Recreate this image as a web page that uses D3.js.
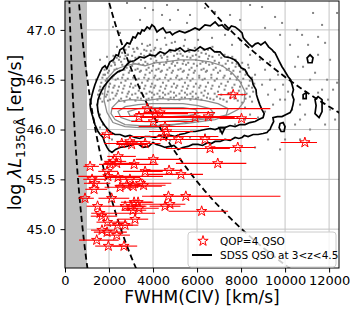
<!DOCTYPE html>
<html>
<head>
<meta charset="utf-8">
<script src="https://cdn.jsdelivr.net/npm/d3@7"></script>
<style>
  body { margin: 0; background: #fff; }
  svg { font-family: "DejaVu Sans", sans-serif; }
</style>
</head>
<body>
<div id="chart"></div>
<script>
// Axis ticks
var fwhmTicks = [0, 2000, 4000, 6000, 8000, 10000, 12000];
var logLTicks = [45.0, 45.5, 46.0, 46.5, 47.0];

// Shaded FWHM region (km/s)
var grayZone = [0, 1000];

// Constant black hole mass lines (log M), VP06 CIV relation
var massLines = [7, 8, 9, 10];
var vp06Zero = 6.66;
var vp06Slope = 0.53;

// QOP=4 QSOs: FWHM(CIV), log L1350, lower / upper FWHM error
var starFwhm = [7640, 3730, 3360, 4090, 4320, 4010, 4545, 4620, 4470, 5150, 6360, 6590, 7850, 10900,
  1900, 2580, 2950, 3030, 3640, 5910, 6510, 8020, 2420, 2180, 2045, 2350, 1910, 3140, 4010, 6940,
  1140, 3640, 4730, 5270, 1950, 2410, 1230, 1360, 1320, 2950, 2500, 2800, 3100, 3430, 3570,
  910, 2120, 4700, 5490, 1480, 2730, 3000, 3140, 3320, 3360, 3090, 4545, 4770, 6210,
  1590, 1670, 3180, 1930, 2390, 2730, 1680, 1910, 2350, 1440, 1970, 2680];
var starLogL = [46.35, 46.21, 46.13, 46.16, 46.17, 46.08, 46.03, 45.98, 45.93, 45.90, 45.90, 45.81, 45.82, 45.87,
  45.95, 45.86, 45.88, 45.85, 45.86, 46.12, 46.13, 46.11, 45.73, 45.68, 45.65, 45.66, 45.58, 45.65, 45.70, 45.66,
  45.63, 45.58, 45.59, 45.55, 45.53, 45.52, 45.50, 45.46, 45.40, 45.50, 45.42, 45.44, 45.43, 45.46, 45.44,
  45.31, 45.31, 45.33, 45.33, 45.23, 45.23, 45.23, 45.27, 45.27, 45.21, 45.19, 45.23, 45.25, 45.18,
  45.16, 45.13, 45.10, 45.07, 45.04, 45.04, 44.99, 44.97, 44.94, 44.89, 44.83, 44.83];
var starErrLo = [700, 1600, 1100, 900, 700, 1000, 1200, 800, 1500, 1200, 1500, 2000, 1300, 1100,
  300, 800, 600, 700, 900, 2500, 1500, 1000, 500, 400, 500, 600, 400, 700, 800, 1900,
  300, 1000, 1200, 1500, 1350, 600, 400, 500, 400, 600, 700, 500, 800, 900, 700,
  300, 600, 1200, 1600, 500, 700, 500, 600, 400, 700, 500, 700, 1300, 1500,
  400, 500, 800, 500, 500, 600, 500, 600, 500, 800, 600, 500];
var starErrHi = [600, 5600, 3000, 1500, 2500, 1800, 2000, 1200, 2500, 1500, 1200, 900, 800, 550,
  300, 900, 800, 700, 700, 1800, 1500, 700, 800, 600, 700, 900, 500, 1100, 1300, 1300,
  400, 800, 600, 1000, 2500, 1000, 600, 700, 600, 600, 800, 700, 1300, 1400, 1000,
  400, 800, 1800, 4300, 600, 900, 700, 800, 700, 900, 600, 700, 700, 1200,
  2500, 700, 600, 900, 700, 600, 600, 900, 600, 1000, 800, 600];

// SDSS QSOs drawn as points (FWHM, log L)
var sdssDots = [
  [2818,47.27],[3409,47.10],[4000,47.20],[4409,47.15],[2500,46.97],[3045,46.90],[2182,47.03],[4636,47.25],
  [4181,46.90],[2364,46.83],[1909,46.73],[4772,47.10],[5136,47.20],[5545,47.07],[8954,47.23],[9545,47.13],
  [9863,47.07],[11272,47.17],[11818,46.87],[10545,47.00],[10772,46.95],[11500,46.93],[12363,46.47],[12181,46.40],
  [11954,46.30],[11681,46.40],[10590,46.73],[10817,46.63],[10454,46.63],[11363,46.57],[10136,46.38],[10000,46.30],
  [11500,46.37],[10317,46.20],[12363,47.17],[6363,47.22],[7500,47.15],[8409,47.25],[7954,47.10],[6818,47.18],
  [12045,46.70],[12272,46.10],[11818,46.05],[10681,46.10],[11136,46.00],[10454,46.05],[10000,45.90],[10681,45.90],
  [5681,47.15],[3636,47.22],[9090,47.02],[11681,47.05],[11045,46.85],[10226,46.85],[9772,46.95],[11500,46.75],
  [11909,46.50],[11136,46.50],[10681,46.25],[10908,46.15],[12045,46.20],[9772,45.80],[8636,45.82],[9227,45.90],
  [1591,46.70],[1409,46.50],
  [8409,46.75],[8863,46.70],[9090,46.60],[9317,46.50],[9545,46.40],[9772,46.30],[9227,46.35],[8954,46.45],
  [8636,46.55],[8318,46.65],[9317,46.68],[9681,46.55],[9909,46.45],[9454,46.25],[9090,46.18],[8772,46.12],
  [8409,46.15],[8181,46.22],[7954,46.90],[7590,46.85],[7272,46.95],[6681,46.92],[6045,46.90],[5454,46.90],
  [5000,46.88],[4545,46.92],[3863,46.85],[3272,46.82],[2863,46.75],[2273,46.65],[1818,46.55],[1591,46.40],
  [1454,46.25],[1591,46.15],[1727,46.05],[8181,46.10],[7727,46.05],[7045,45.98],[6363,45.95],[5681,45.92],
  [4772,45.89],[1818,45.95],[2136,45.90],[1591,46.02],
  [2900,46.83],[3300,46.81],[3750,46.84],[4100,46.82],[4600,46.85],[5050,46.81],[5400,46.84],[5900,46.82],
  [6300,46.80],[6700,46.83],[3500,46.86],[4850,46.87],
  [2750,46.80],[3100,46.81],[3600,46.80],[3900,46.79],[4350,46.81],[4750,46.80],[5200,46.79],[5600,46.81],
  [6050,46.79],[6500,46.80],
  [2600,46.77],[2850,46.75],[3150,46.78],[3450,46.76],[3700,46.79],[3950,46.74],[4250,46.77],[4500,46.75],
  [4800,46.78],[5100,46.76],[5350,46.74],[5650,46.78],[5950,46.75],[6200,46.77],[6550,46.74],[6900,46.78],
  [7250,46.75],[7600,46.73],[2350,46.72],[4050,46.80],
  [2200,46.74],[2500,46.73],[2750,46.74],[3350,46.73],[3600,46.74],[3850,46.76],[4100,46.73],[4350,46.74],
  [4650,46.73],[4950,46.74],[5250,46.76],[5800,46.74],[6100,46.73],[6400,46.76],[6700,46.73],[7000,46.75],
  [7400,46.73],[7800,46.66],
  [2200,46.68],[2450,46.70],[2700,46.71],[2950,46.69],[3200,46.72],[3450,46.70],[3650,46.68],[3900,46.71],
  [4150,46.69],[4400,46.72],[4650,46.70],[4900,46.68],[5150,46.71],[5400,46.69],[5700,46.72],[5950,46.70],
  [6250,46.68],[6500,46.71],[6800,46.69],[7100,46.72],[7400,46.69],[7750,46.70],[8050,46.67],[3050,46.74],[5550,46.73],
  [2000,46.66],[2250,46.67],[2550,46.68],[2850,46.66],[3100,46.67],[3350,46.66],[3750,46.66],[4050,46.67],
  [4300,46.66],[4600,46.67],[4850,46.66],[5100,46.67],[5350,46.66],[5600,46.67],[5850,46.66],[6150,46.66],
  [6400,46.67],[6700,46.66],[7000,46.67],[7300,46.66],[7600,46.67],[7900,46.64],
  [1900,46.62],[2100,46.64],[2350,46.61],[2600,46.65],[2800,46.62],[3050,46.64],[3300,46.61],[3550,46.65],
  [3800,46.62],[4000,46.64],[4250,46.61],[4500,46.65],[4750,46.62],[5000,46.64],[5250,46.61],[5500,46.65],
  [5750,46.62],[6000,46.64],[6300,46.61],[6550,46.65],[6850,46.62],[7150,46.64],[7450,46.61],[7750,46.63],
  [8100,46.60],[8350,46.62],
  [1800,46.60],[2000,46.59],[2250,46.60],[2500,46.59],[2700,46.60],[2950,46.59],[3200,46.60],[3450,46.59],
  [3700,46.60],[3950,46.59],[4150,46.60],[4400,46.59],[4650,46.60],[4900,46.59],[5150,46.60],[5400,46.59],
  [5650,46.60],[5900,46.59],[6200,46.60],[6450,46.59],[6750,46.60],[7050,46.59],[7350,46.60],[7650,46.59],
  [7950,46.58],[8250,46.57],
  [1750,46.55],[1950,46.57],[2200,46.54],[2450,46.58],[2650,46.55],[2900,46.57],[3150,46.54],[3400,46.58],
  [3650,46.55],[3850,46.57],[4100,46.54],[4350,46.58],[4600,46.55],[4850,46.57],[5100,46.54],[5350,46.58],
  [5600,46.55],[5850,46.57],[6100,46.54],[6400,46.58],[6650,46.55],[6950,46.57],[7250,46.54],[7550,46.56],
  [7850,46.53],[8200,46.55],[8500,46.52],
  [1700,46.52],[1900,46.51],[2150,46.52],[2400,46.51],[2600,46.52],[2850,46.51],[3100,46.52],[3350,46.51],
  [3600,46.52],[3800,46.51],[4050,46.52],[4300,46.51],[4550,46.52],[4800,46.51],[5050,46.52],[5300,46.51],
  [5550,46.52],[5800,46.51],[6100,46.52],[6350,46.51],[6650,46.52],[6900,46.51],[7200,46.52],[7500,46.51],
  [7800,46.50],[8100,46.51],[8400,46.49],
  [1650,46.47],[1850,46.49],[2050,46.46],[2300,46.50],[2550,46.47],[2750,46.49],[3000,46.46],[3250,46.50],
  [3500,46.47],[3750,46.49],[3950,46.46],[4200,46.50],[4450,46.47],[4700,46.49],[4950,46.46],[5200,46.50],
  [5450,46.47],[5700,46.49],[5950,46.46],[6250,46.50],[6500,46.47],[6800,46.49],[7100,46.46],[7400,46.48],
  [7700,46.45],[8000,46.47],[8350,46.44],[8600,46.46],
  [1600,46.43],[1800,46.44],[2000,46.43],[2250,46.44],[2450,46.43],[2700,46.44],[2950,46.43],[3200,46.44],
  [3400,46.43],[3650,46.44],[3900,46.43],[4100,46.44],[4350,46.43],[4600,46.44],[4850,46.43],[5100,46.44],
  [5350,46.43],[5600,46.44],[5850,46.43],[6150,46.44],[6400,46.43],[6700,46.44],[7000,46.43],[7300,46.44],
  [7600,46.42],[7950,46.43],[8250,46.41],[8500,46.42],
  [1550,46.39],[1750,46.41],[1950,46.38],[2200,46.42],[2400,46.39],[2650,46.41],[2900,46.38],[3100,46.42],
  [3350,46.39],[3600,46.41],[3850,46.38],[4050,46.42],[4300,46.39],[4550,46.41],[4800,46.38],[5050,46.42],
  [5300,46.39],[5550,46.41],[5800,46.38],[6100,46.42],[6350,46.39],[6650,46.41],[6950,46.38],[7250,46.40],
  [7550,46.37],[7900,46.39],[8250,46.36],[8550,46.38],
  [1500,46.35],[1700,46.36],[1900,46.35],[2150,46.37],[2350,46.36],[2600,46.37],[2850,46.36],[3200,46.36],
  [3450,46.37],[3700,46.36],[3950,46.37],[4200,46.36],[4450,46.37],[4700,46.36],[4950,46.37],[5200,46.36],
  [5450,46.37],[5700,46.36],[5950,46.36],[6200,46.37],[6500,46.36],[6800,46.36],[7100,46.35],[7400,46.36],
  [7700,46.34],[8050,46.35],[8400,46.33],
  [1600,46.31],[1850,46.33],[2050,46.30],[2300,46.34],[2550,46.31],[2800,46.33],[3050,46.35],[3300,46.32],
  [3550,46.34],[3800,46.31],[4050,46.35],[4300,46.33],[4550,46.35],[4800,46.32],[5050,46.34],[5300,46.32],
  [5550,46.35],[5800,46.33],[6050,46.32],[6300,46.34],[6600,46.31],[6900,46.33],[7200,46.30],[7500,46.32],
  [7850,46.29],[8200,46.31],[8500,46.28],
  [1700,46.28],[1950,46.29],[2200,46.31],[2450,46.29],[2700,46.28],[2950,46.31],[3200,46.29],[3450,46.31],
  [3700,46.30],[3950,46.32],[4200,46.30],[4450,46.32],[4700,46.30],[4950,46.32],[5200,46.30],[5450,46.32],
  [5700,46.30],[5950,46.31],[6200,46.30],[6450,46.32],[6750,46.30],[7050,46.31],[7350,46.28],[7700,46.31],[8050,46.27]
];

// SDSS density contours (FWHM, log L), black = outer levels, gray = inner levels
var blackContours = [
  [[1590,46.57],[1700,46.62],[1820,46.64],[1900,46.61],[2045,46.68],[2200,46.70],[2320,46.75],[2420,46.74],
   [2500,46.80],[2650,46.82],[2820,46.87],[2950,46.86],[3090,46.93],[3200,46.92],[3320,46.97],[3420,46.96],
   [3500,47.00],[3600,46.99],[3730,47.03],[3850,47.01],[3950,47.05],[4060,47.03],[4180,46.98],[4300,47.00],
   [4450,47.02],[4600,46.97],[4770,46.98],[4880,46.95],[5000,46.97],[5200,46.99],[5450,46.97],[5650,46.99],
   [5910,47.02],[6100,47.00],[6360,47.05],[6600,47.04],[6820,47.08],[6980,47.04],[7140,47.05],[7300,47.01],
   [7410,47.00],[7560,47.04],[7730,47.03],[7900,47.00],[8045,46.97],[8100,46.92],[8180,46.90],[8350,46.86],
   [8500,46.83],[8650,46.86],[8770,46.87],[8900,46.85],[9090,46.88],[9250,46.83],[9410,46.80],[9480,46.78],
   [9545,46.77],[9700,46.70],[9860,46.63],[9950,46.60],[10140,46.53],[10250,46.50],[10320,46.45],[10380,46.40],
   [10320,46.35],[10400,46.30],[10360,46.25],[10300,46.20],[10230,46.17],[10050,46.15],[9860,46.13],[9650,46.13],
   [9450,46.12],[9480,46.08],[9410,46.05],[9350,46.02],[9320,46.00],[9250,45.99],[9180,45.97],[9000,45.96],
   [8770,45.95],[8550,45.95],[8320,45.93],[8150,45.94],[8045,45.92],[7900,45.91],[7730,45.92],[7500,45.89],
   [7270,45.90],[7050,45.88],[6820,45.88],[6650,45.86],[6500,45.87],[6250,45.84],[6045,45.85],[5800,45.85],
   [5590,45.83],[5350,45.82],[5140,45.80],[4950,45.84],[4770,45.83],[4550,45.82],[4320,45.84],[4150,45.85],
   [4000,45.87],[3800,45.83],[3545,45.82],[3300,45.86],[3090,45.85],[2800,45.83],[2500,45.82],[2300,45.80],
   [2136,45.77],[2000,45.79],[1910,45.82],[1800,45.87],[1730,45.92],[1600,45.95],[1500,45.98],[1420,46.02],
   [1360,46.05],[1300,46.10],[1230,46.15],[1170,46.20],[1140,46.25],[1180,46.30],[1230,46.35],[1290,46.40],
   [1360,46.45],[1450,46.50]],
  [[2136,46.53],[2400,46.58],[2636,46.60],[2800,46.65],[2950,46.68],[3150,46.69],[3410,46.73],[3600,46.72],
   [3860,46.75],[4100,46.74],[4320,46.78],[4550,46.76],[4770,46.80],[5000,46.79],[5230,46.82],[5450,46.78],
   [5680,46.80],[5900,46.79],[6140,46.83],[6350,46.80],[6590,46.82],[6800,46.78],[7045,46.78],[7250,46.73],
   [7500,46.72],[7700,46.70],[7860,46.67],[8000,46.62],[8180,46.60],[8300,46.55],[8500,46.50],[8550,46.45],
   [8680,46.40],[8700,46.35],[8770,46.30],[8850,46.25],[8950,46.20],[9050,46.16],[9000,46.12],[8800,46.10],
   [8640,46.08],[8400,46.07],[8180,46.05],[7950,46.05],[7730,46.03],[7500,46.04],[7270,46.02],[7050,46.02],
   [6820,46.00],[6600,46.01],[6360,46.00],[6150,45.99],[5910,45.98],[5700,45.98],[5450,45.96],[5200,45.95],
   [5000,45.93],[4800,45.94],[4545,45.92],[4300,45.94],[4090,45.92],[3850,45.93],[3640,45.93],[3400,45.91],
   [3180,45.92],[2950,45.94],[2730,45.93],[2500,45.95],[2270,45.95],[2100,45.97],[1950,46.00],[1800,46.04],
   [1680,46.08],[1560,46.13],[1500,46.18],[1470,46.24],[1500,46.30],[1600,46.36],[1730,46.42],[1900,46.47]],
  [[11000,46.72],[11135,46.75],[11270,46.72],[11225,46.67],[11045,46.67]],
  [[11360,46.30],[11500,46.33],[11680,46.30],[11680,46.18],[11545,46.12],[11360,46.16],[11410,46.24]],
  [[9770,46.06],[9910,46.07],[10000,46.03],[9955,45.98],[9820,45.98],[9730,46.02]],
  [[10820,46.35],[10960,46.37],[10960,46.31],[10820,46.31]],
  [[7000,46.02],[7270,46.02],[7140,45.96]]
];
var grayContours = [
  [[1820,46.40],[1950,46.52],[2270,46.60],[2730,46.64],[3180,46.66],[3640,46.64],[4090,46.67],[4545,46.68],
   [5230,46.70],[5910,46.70],[6590,46.68],[7140,46.64],[7590,46.57],[7950,46.48],[8180,46.38],[8140,46.28],
   [7860,46.20],[7410,46.15],[6820,46.12],[6140,46.10],[5450,46.07],[4770,46.04],[4090,46.02],[3410,46.02],
   [2730,46.03],[2180,46.07],[1910,46.17],[1770,46.30]],
  [[2140,46.22],[2410,46.28],[2950,46.30],[3640,46.29],[4320,46.31],[5000,46.30],[5680,46.31],[6360,46.29],
   [6950,46.26],[7410,46.21],[7320,46.14],[6820,46.10],[6140,46.08],[5450,46.06],[4770,46.05],[4090,46.04],
   [3410,46.04],[2730,46.05],[2270,46.10],[2090,46.16]],
  [[2410,46.18],[2730,46.23],[3320,46.25],[3950,46.26],[4680,46.26],[5360,46.26],[6045,46.24],[6590,46.21],
   [6770,46.16],[6360,46.12],[5680,46.10],[5000,46.09],[4320,46.08],[3640,46.08],[2950,46.09],[2540,46.12]],
  [[2860,46.18],[3320,46.21],[3950,46.22],[4680,46.22],[5360,46.22],[5950,46.20],[6045,46.16],[5590,46.14],
   [4860,46.13],[4090,46.12],[3410,46.13],[2950,46.14]]
];

var legendLabels = ["QOP=4 QSO", "SDSS QSO at 3<z<4.5"];

//Define SVG area
var svgWidth = 350;
var svgHeight = 309;
var margin = { top: 1, right: 11, bottom: 41, left: 65 };
var width = svgWidth - margin.left - margin.right;
var height = svgHeight - margin.top - margin.bottom;

var svg = d3.select("#chart")
  .append("svg")
  .attr("width", svgWidth)
  .attr("height", svgHeight);

var chartGroup = svg.append("g")
  .attr("transform", `translate(${margin.left}, ${margin.top})`);

var xScale = d3.scaleLinear().domain([0, 12450]).range([0, width]);
var yScale = d3.scaleLinear().domain([44.61, 47.29]).range([height, 0]);

svg.append("defs").append("clipPath").attr("id", "plotClip")
  .append("rect").attr("width", width).attr("height", height);

//Grid lines
chartGroup.append("g").selectAll("line.vgrid")
  .data(fwhmTicks).enter().append("line")
  .attr("x1", d => xScale(d)).attr("x2", d => xScale(d))
  .attr("y1", 0).attr("y2", height)
  .attr("stroke", "#c4c4c4").attr("stroke-width", 1);
chartGroup.append("g").selectAll("line.hgrid")
  .data(logLTicks).enter().append("line")
  .attr("x1", 0).attr("x2", width)
  .attr("y1", d => yScale(d)).attr("y2", d => yScale(d))
  .attr("stroke", "#c4c4c4").attr("stroke-width", 1);

var plot = chartGroup.append("g").attr("clip-path", "url(#plotClip)");

//Shaded region
plot.append("rect")
  .attr("x", xScale(grayZone[0]))
  .attr("width", xScale(grayZone[1]) - xScale(grayZone[0]))
  .attr("y", 0).attr("height", height)
  .attr("fill", "#bfbfbf");

//SDSS points
plot.append("g").selectAll("rect")
  .data(sdssDots).enter().append("rect")
  .attr("x", d => xScale(d[0]) - 1)
  .attr("y", d => yScale(d[1]) - 1)
  .attr("width", 2).attr("height", 2)
  .attr("fill", "#858585");

//Contours
var contourLine = d3.line()
  .x(d => xScale(d[0]))
  .y(d => yScale(d[1]))
  .curve(d3.curveLinearClosed);

plot.append("g").selectAll("path")
  .data(grayContours).enter().append("path")
  .attr("d", contourLine)
  .attr("fill", "none").attr("stroke", "#8c8c8c").attr("stroke-width", 1.3);

plot.append("g").selectAll("path")
  .data(blackContours).enter().append("path")
  .attr("d", contourLine)
  .attr("fill", "none").attr("stroke", "#000").attr("stroke-width", 1.7);

//Constant mass lines
var lumSteps = d3.range(44.6, 47.31, 0.02);
var massLine = d3.line()
  .x(d => xScale(d[0]))
  .y(d => yScale(d[1]));
plot.append("g").selectAll("path")
  .data(massLines).enter().append("path")
  .attr("d", m => massLine(lumSteps.map(l => [1000 * Math.pow(10, (m - vp06Zero - vp06Slope * (l - 44)) / 2), l])))
  .attr("fill", "none").attr("stroke", "#000")
  .attr("stroke-width", 1.8).attr("stroke-dasharray", "6,3.5");

//QOP=4 QSOs with error bars
var stars = starFwhm.map((f, i) => ({ f: f, l: starLogL[i], lo: starErrLo[i], hi: starErrHi[i] }));
var starPath = d3.symbol().type(d3.symbolStar).size(33);

plot.append("g").selectAll("line")
  .data(stars).enter().append("line")
  .attr("x1", d => xScale(d.f - d.lo)).attr("x2", d => xScale(d.f + d.hi))
  .attr("y1", d => yScale(d.l)).attr("y2", d => yScale(d.l))
  .attr("stroke", "#ff0000").attr("stroke-width", 1.1);

plot.append("g").selectAll("path")
  .data(stars).enter().append("path")
  .attr("d", starPath)
  .attr("transform", d => `translate(${xScale(d.f)}, ${yScale(d.l)})`)
  .attr("fill", "none").attr("stroke", "#ff0000").attr("stroke-width", 1);

//Axes
var bottomAxis = d3.axisBottom(xScale).tickValues(fwhmTicks).tickSize(4.5).tickPadding(3).tickFormat(d3.format("d"));
var leftAxis = d3.axisLeft(yScale).tickValues(logLTicks).tickSize(4.5).tickPadding(5).tickFormat(d3.format(".1f"));

var xAxisG = chartGroup.append("g").attr("transform", `translate(0, ${height})`).call(bottomAxis);
var yAxisG = chartGroup.append("g").call(leftAxis);
[xAxisG, yAxisG].forEach(function(g) {
  g.select(".domain").remove();
  g.selectAll("text").attr("font-size", "13px").attr("font-family", "DejaVu Sans").attr("fill", "#000");
  g.selectAll("line").attr("stroke", "#000");
});

chartGroup.append("rect")
  .attr("width", width).attr("height", height)
  .attr("fill", "none").attr("stroke", "#000").attr("stroke-width", 1);

//Axis labels
chartGroup.append("text")
  .attr("x", width / 2)
  .attr("y", height + 35)
  .attr("text-anchor", "middle")
  .attr("font-size", "17px")
  .text("FWHM(CIV) [km/s]");

var yLabel = chartGroup.append("text")
  .attr("transform", "rotate(-90)")
  .attr("x", -(height / 2) + 2)
  .attr("y", -44)
  .attr("text-anchor", "middle")
  .attr("font-size", "17.5px");
yLabel.append("tspan").text("log ");
yLabel.append("tspan").attr("font-style", "italic").text("λL");
yLabel.append("tspan").attr("font-size", "12.5px").attr("dy", "4").text("1350Å");
yLabel.append("tspan").attr("dy", "-4").text(" [erg/s]");

//Legend
var legend = chartGroup.append("g").attr("transform", "translate(123, 231)");
legend.append("rect")
  .attr("width", 148).attr("height", 35).attr("rx", 3)
  .attr("fill", "#fff").attr("fill-opacity", 0.8)
  .attr("stroke", "#cccccc");
legend.append("path")
  .attr("d", starPath)
  .attr("transform", "translate(15, 9)")
  .attr("fill", "none").attr("stroke", "#ff0000").attr("stroke-width", 1);
legend.append("line")
  .attr("x1", 4).attr("x2", 24).attr("y1", 23).attr("y2", 23)
  .attr("stroke", "#000").attr("stroke-width", 2);
legend.selectAll("text")
  .data(legendLabels).enter().append("text")
  .attr("x", 32)
  .attr("y", (d, i) => 13 + i * 14)
  .attr("font-size", "10.5px")
  .text(d => d);
</script>
</body>
</html>
